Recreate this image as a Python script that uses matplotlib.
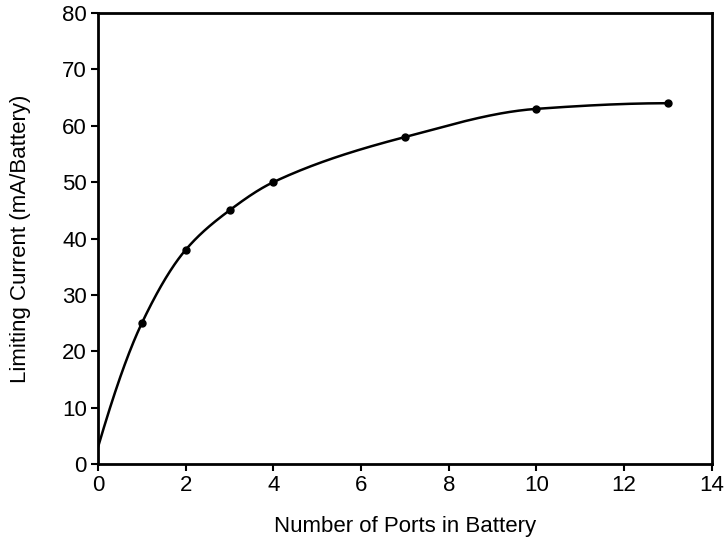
import numpy as np
import matplotlib.pyplot as plt

# data
ports = [0, 1, 2, 3, 4, 7, 10, 13]
current = [3, 25, 38, 45, 50, 58, 63, 64]

x_ticks = [0, 2, 4, 6, 8, 10, 12, 14]
y_ticks = [0, 10, 20, 30, 40, 50, 60, 70, 80]


def smooth_line(xs, ys, n=60):
    # shape-preserving cubic (PCHIP) through the points, for a smoothed line
    xs = np.asarray(xs, float)
    ys = np.asarray(ys, float)
    h = np.diff(xs)
    d = np.diff(ys) / h
    m = np.zeros_like(ys)
    for i in range(1, len(xs) - 1):
        if d[i - 1] * d[i] > 0:
            w1 = 2 * h[i] + h[i - 1]
            w2 = h[i] + 2 * h[i - 1]
            m[i] = (w1 + w2) / (w1 / d[i - 1] + w2 / d[i])
    m[0] = ((2 * h[0] + h[1]) * d[0] - h[0] * d[1]) / (h[0] + h[1])
    m[-1] = ((2 * h[-1] + h[-2]) * d[-1] - h[-1] * d[-2]) / (h[-1] + h[-2])
    m[-1] = max(m[-1], 0)
    out_x, out_y = [], []
    t = np.linspace(0, 1, n)
    for i in range(len(xs) - 1):
        h00 = 2 * t ** 3 - 3 * t ** 2 + 1
        h10 = t ** 3 - 2 * t ** 2 + t
        h01 = -2 * t ** 3 + 3 * t ** 2
        h11 = t ** 3 - t ** 2
        out_x.extend(xs[i] + t * h[i])
        out_y.extend(h00 * ys[i] + h10 * h[i] * m[i] + h01 * ys[i + 1] + h11 * h[i] * m[i + 1])
    return np.array(out_x), np.array(out_y)


plt.rcParams['font.family'] = ['Liberation Sans', 'DejaVu Sans']

fig = plt.figure(figsize=(7.24, 5.38), dpi=100)
ax = fig.add_axes([0.1354, 0.1375, 0.8476, 0.8383])

sx, sy = smooth_line(ports, current)
ax.plot(sx, sy, color="black", lw=1.8)
ax.plot(ports[1:], current[1:], "o", color="black", ms=5)

ax.set_xlim(0, 14)
ax.set_ylim(0, 80)
ax.set_xticks(x_ticks)
ax.set_yticks(y_ticks)
ax.tick_params(direction="out", length=5, width=1.5, labelsize=16, pad=3)
for s in ax.spines.values():
    s.set_linewidth(2)

ax.set_xlabel("Number of Ports in Battery", fontsize=16, labelpad=14)
ax.set_ylabel("Limiting Current (mA/Battery)", fontsize=16, labelpad=22)

fig.savefig("out.png", dpi=100)
